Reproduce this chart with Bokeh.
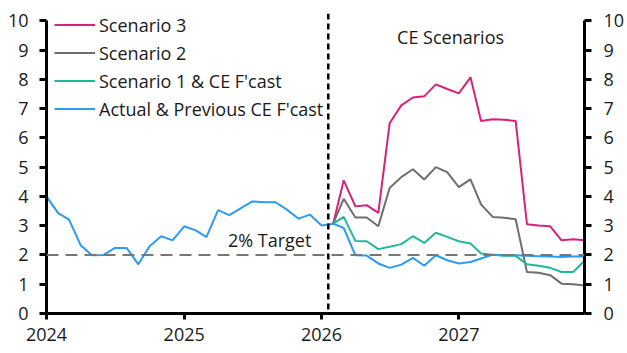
import pandas as pd
from bokeh.plotting import figure
from bokeh.models import (Range1d, LinearAxis, FixedTicker, DatetimeTickFormatter,
                          Span, Label, Legend, LegendItem)
from bokeh.embed import file_html
from bokeh.resources import INLINE

# ---------------- data ----------------
months = pd.date_range("2024-01-01", periods=48, freq="MS")
actual_prev = [4.0, 3.43, 3.21, 2.33, 1.99, 2.0, 2.24, 2.24, 1.68, 2.3, 2.64, 2.5,
               2.98, 2.84, 2.61, 3.53, 3.36, 3.6, 3.83, 3.8, 3.8, 3.55, 3.24, 3.38,
               3.01, 3.07, 2.92, 1.99, 1.98, 1.71, 1.56, 1.67, 1.9, 1.63, 1.99, 1.82,
               1.71, 1.76, 1.88, 2.01, 1.99, 1.99, 1.97, 1.96, 1.95, 1.93, 1.95, 1.95]
scen_months = months[25:]
scenario3 = [3.07, 4.55, 3.66, 3.70, 3.44, 6.5, 7.11, 7.38, 7.42, 7.83, 7.67, 7.52,
             8.07, 6.58, 6.64, 6.62, 6.58, 3.05, 3.01, 2.98, 2.50, 2.54, 2.5]
scenario2 = [3.07, 3.92, 3.28, 3.28, 2.98, 4.29, 4.66, 4.93, 4.58, 5.0, 4.83, 4.32,
             4.58, 3.73, 3.30, 3.27, 3.22, 1.42, 1.39, 1.31, 1.02, 1.0, 0.96]
scenario1 = [3.07, 3.30, 2.48, 2.47, 2.2, 2.28, 2.37, 2.64, 2.41, 2.76, 2.62, 2.47,
             2.39, 2.05, 2.01, 1.97, 1.97, 1.68, 1.63, 1.56, 1.42, 1.42, 1.8]
year_ticks = ["2024-01-01", "2025-01-01", "2026-01-01", "2027-01-01"]
y_ticks = list(range(0, 11))
target = 2
scenario_start = "2026-01-19"
labels = ["Scenario 3", "Scenario 2", "Scenario 1 & CE F'cast", "Actual & Previous CE F'cast"]
colors = ["#d6237a", "#6e6e6e", "#1fb89b", "#2b9cf0"]

FONT = "Open Sans"
FS = "18px"

def ms(d):
    return pd.Timestamp(d).value / 1e6

p = figure(width=627, height=353, output_backend="svg", toolbar_location=None,
           x_axis_type="datetime",
           x_range=Range1d(ms(months[0]), ms(months[-1])),
           y_range=Range1d(0, 10.25),
           min_border_left=46, min_border_right=42, min_border_top=13, min_border_bottom=40)
p.outline_line_color = None
p.xgrid.visible = False
p.ygrid.visible = False
p.background_fill_color = "white"
p.border_fill_color = "white"

# axes
xa = p.xaxis[0]
xa.ticker = FixedTicker(ticks=[ms(t) for t in year_ticks])
xa.formatter = DatetimeTickFormatter(years="%Y", months="%Y", days="%Y", hours="%Y",
                                     minutes="%Y", seconds="%Y", milliseconds="%Y",
                                     microseconds="%Y", hourmin="%Y", minsec="%Y")
ya = p.yaxis[0]
ya.ticker = FixedTicker(ticks=y_ticks)
ya.bounds = (0, 10)
ra = LinearAxis(ticker=FixedTicker(ticks=y_ticks), bounds=(0, 10))
p.add_layout(ra, "right")
for ax in (xa, ya, ra):
    ax.axis_line_color = "black"
    ax.axis_line_width = 3
    ax.major_tick_line_color = "black"
    ax.major_tick_line_width = 3
    ax.minor_tick_line_color = None
    ax.major_label_text_font = FONT
    ax.major_label_text_font_size = FS
    ax.major_label_text_color = "#1a1a1a"
xa.major_tick_in = 0
xa.major_tick_out = 6
xa.major_label_standoff = 8
ya.major_tick_in = 0
ya.major_tick_out = 7
ya.major_label_standoff = 11
ra.major_tick_in = 0
ra.major_tick_out = 7
ra.major_label_standoff = 12

# reference lines
p.add_layout(Span(location=target, dimension="width", line_color="#777777",
                  line_width=2, line_dash="12 7"))
p.add_layout(Span(location=ms(scenario_start), dimension="height", line_color="black",
                  line_width=2.5, line_dash="6 4"))

# series
r3 = p.line(scen_months, scenario3, line_color=colors[0], line_width=2)
r2 = p.line(scen_months, scenario2, line_color=colors[1], line_width=2)
r1 = p.line(scen_months, scenario1, line_color=colors[2], line_width=2)
r0 = p.line(months, actual_prev, line_color=colors[3], line_width=2)

# labels
p.add_layout(Label(x=ms("2026-12-10"), y=9.45, text="CE Scenarios", text_font=FONT,
                   text_font_size=FS, text_align="center", text_baseline="middle",
                   text_color="#1a1a1a"))
p.add_layout(Label(x=ms("2025-12-05"), y=2.52, text="2% Target", text_font=FONT,
                   text_font_size=FS, text_align="right", text_baseline="middle",
                   text_color="#1a1a1a"))

legend = Legend(items=[LegendItem(label=l, renderers=[r]) for l, r in zip(labels, [r3, r2, r1, r0])],
                location=(8, 192), padding=0, margin=0, spacing=3,
                glyph_width=41, glyph_height=25, label_height=25, label_standoff=4,
                label_text_font=FONT, label_text_font_size=FS, label_text_color="#1a1a1a",
                background_fill_alpha=0, border_line_alpha=0)
p.add_layout(legend)

open("out.html", "w").write(file_html(p, INLINE))
